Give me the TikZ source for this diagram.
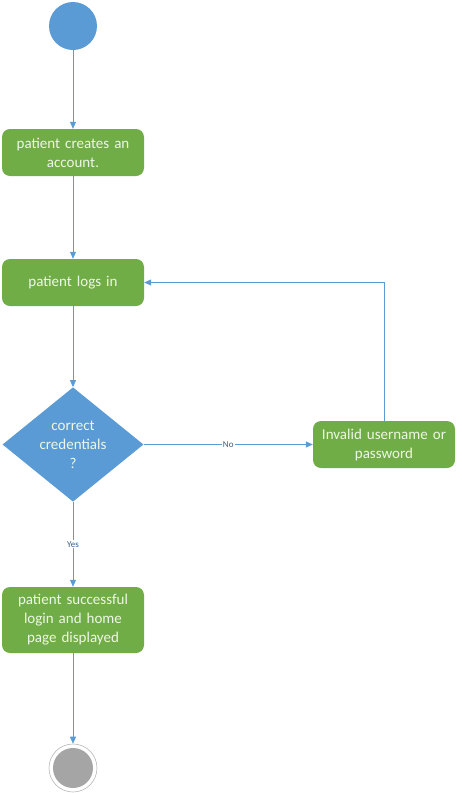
\documentclass[tikz,border=0pt]{standalone}
\usepackage{fontspec}
\setmainfont{Carlito}
\usetikzlibrary{arrows.meta,shapes.geometric}
\definecolor{flowblue}{HTML}{5B9BD5}
\definecolor{actgreen}{HTML}{70AD47}
\definecolor{endgrey}{HTML}{A5A5A5}
\definecolor{boxtext}{HTML}{EEF7E4}

\begin{document}
\begin{tikzpicture}[x=1pt,y=-1pt,>={Triangle[length=7pt,width=6pt]},
  action/.style={rectangle,rounded corners=8pt,fill=actgreen,text=boxtext,
    minimum width=142pt,minimum height=47pt,text width=136pt,align=center,
    inner sep=2pt,font=\fontsize{15}{19}\selectfont},
  decision/.style={diamond,fill=flowblue,text=boxtext,minimum width=141pt,
    minimum height=111pt,inner sep=0pt,align=center,
    font=\fontsize{15}{19}\selectfont},
  flow/.style={draw=flowblue,line width=.8pt,->},
  guard/.style={fill=white,inner sep=1pt,text=flowblue!60!black,font=\fontsize{9}{10}\selectfont}]
  \useasboundingbox (0,0) rectangle (461,793);
  \node[circle,fill=flowblue,minimum size=48pt,inner sep=0pt] (start) at (73,26) {};
  \node[action] (create) at (73,152.5) {patient creates an\\account.};
  \node[action] (login) at (73,282.5) {patient logs in};
  \node[decision] (check) at (73,444.5) {correct\\credentials\\?};
  \node[action] (invalid) at (384,444.5) {Invalid username or\\password};
  \node[action,minimum height=66pt] (home) at (73,620) {patient successful\\login and home\\page displayed};
  \node[circle,draw=endgrey!80,line width=.6pt,minimum size=48pt,inner sep=0pt] (stop) at (73,768) {};
  \node[circle,fill=endgrey,minimum size=40pt,inner sep=0pt] (stopdot) at (stop) {};
  % connectors
  \draw[flow] (start) -- (create);
  \draw[flow] (create) -- (login);
  \draw[flow] (login) -- (check);
  \draw[flow] (check) -- node[guard] {No} (invalid);
  \draw[flow] (invalid.north) |- (login.east);
  \draw[flow] (check) -- node[guard] {Yes} (home);
  \draw[flow] (home) -- (stop);
\end{tikzpicture}
\end{document}
